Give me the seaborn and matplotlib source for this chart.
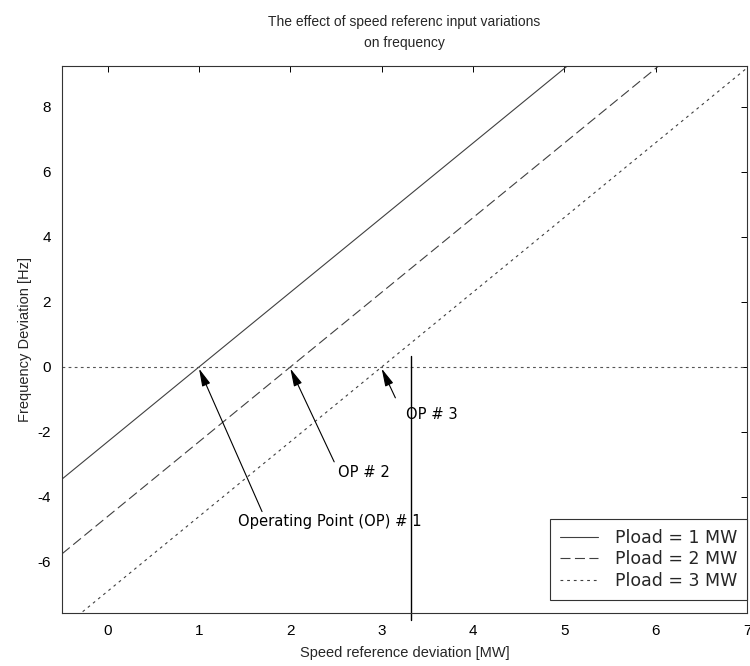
import matplotlib
matplotlib.use("Agg")
import matplotlib.pyplot as plt
import seaborn as sns
import pandas as pd

# Speed reference deviation [MW] and resulting frequency deviation [Hz]
pload_labels = ["Pload = 1 MW", "Pload = 2 MW", "Pload = 3 MW"]
speed_ref_1 = [-0.5, 1.0, 5.05]
freq_dev_1 = [-3.45, 0.0, 9.3]
speed_ref_2 = [-0.5, 2.0, 6.05]
freq_dev_2 = [-5.75, 0.0, 9.3]
speed_ref_3 = [-0.5, 3.0, 7.0]
freq_dev_3 = [-8.05, 0.0, 9.2]

# operating points (zero frequency deviation) and their label positions
op_x = [1.0, 2.0, 3.0]
op_y = [0.0, 0.0, 0.0]
op_text = ["Operating Point (OP) # 1", "OP # 2", "OP # 3"]
op_text_x = [1.43, 2.52, 3.27]
op_text_y = [-4.75, -3.25, -1.45]
op_tail_x = [1.69, 2.48, 3.15]
op_tail_y = [-4.45, -2.92, -0.95]

ref_line_x = 3.32
ref_line_top = 0.35

x_ticks = [0, 1, 2, 3, 4, 5, 6, 7]
y_ticks = [-6, -4, -2, 0, 2, 4, 6, 8]

sns.set_theme(style="white")
plt.rcParams["font.family"] = ["Liberation Sans", "DejaVu Sans"]
plt.rcParams["axes.unicode_minus"] = False

fig = plt.figure(figsize=(7.5, 6.66), dpi=100)
ax = fig.add_axes([0.0827, 0.0796, 0.9133, 0.8213])

line_color = "#404040"
series = [
    (speed_ref_1, freq_dev_1, "-"),
    (speed_ref_2, freq_dev_2, (0, (9, 4))),
    (speed_ref_3, freq_dev_3, (0, (2.5, 3.5))),
]
for (xs, ys, ls), lab in zip(series, pload_labels):
    df = pd.DataFrame({"speed": xs, "freq": ys})
    sns.lineplot(data=df, x="speed", y="freq", ax=ax, color=line_color,
                 linewidth=0.8, linestyle=ls, label=lab, sort=False)

# zero-deviation reference
ax.axhline(0, color="#555555", linewidth=0.8, linestyle=(0, (2.5, 3)))

# vertical marker line extending just below the axis
ax.plot([ref_line_x, ref_line_x], [ref_line_top, -7.8], color="black",
        linewidth=1.0, clip_on=False)

for tx, ty, hx, hy, lx, ly, t in zip(op_tail_x, op_tail_y, op_x, op_y,
                                     op_text_x, op_text_y, op_text):
    ax.annotate("", xy=(hx, hy - 0.05), xytext=(tx, ty),
                arrowprops=dict(arrowstyle="-|>,head_length=0.9,head_width=0.22",
                                color="black", lw=0.8, shrinkA=0, shrinkB=0))
    ax.text(lx, ly, t, fontsize=10.6, ha="left", va="center", color="black",
            family=["DejaVu Sans"])

ax.set_xlim(-0.5, 7.0)
ax.set_ylim(-7.57, 9.26)
ax.set_xticks(x_ticks)
ax.set_yticks(y_ticks)
ax.tick_params(direction="in", length=4, width=0.7, top=True, right=True,
               labelsize=11, colors="black", pad=8)
for s in ax.spines.values():
    s.set_color("#333333")
    s.set_linewidth(0.8)

ax.set_xlabel("Speed reference deviation [MW]", fontsize=10.5, labelpad=6)
ax.set_ylabel("Frequency Deviation [Hz]", fontsize=10.5, labelpad=4)
ax.set_title("The effect of speed referenc input variations\non frequency",
             fontsize=10, pad=14, linespacing=1.6)

leg = ax.legend(loc="lower right", bbox_to_anchor=(1.0, 0.024), frameon=True,
                fancybox=False, borderaxespad=0, handlelength=2.2,
                handletextpad=1.0, borderpad=0.55, labelspacing=0.22,
                edgecolor="#333333", framealpha=1,
                prop={"family": "DejaVu Sans", "size": 12.5})
leg.get_frame().set_linewidth(0.8)

fig.savefig("out.png", dpi=100)
